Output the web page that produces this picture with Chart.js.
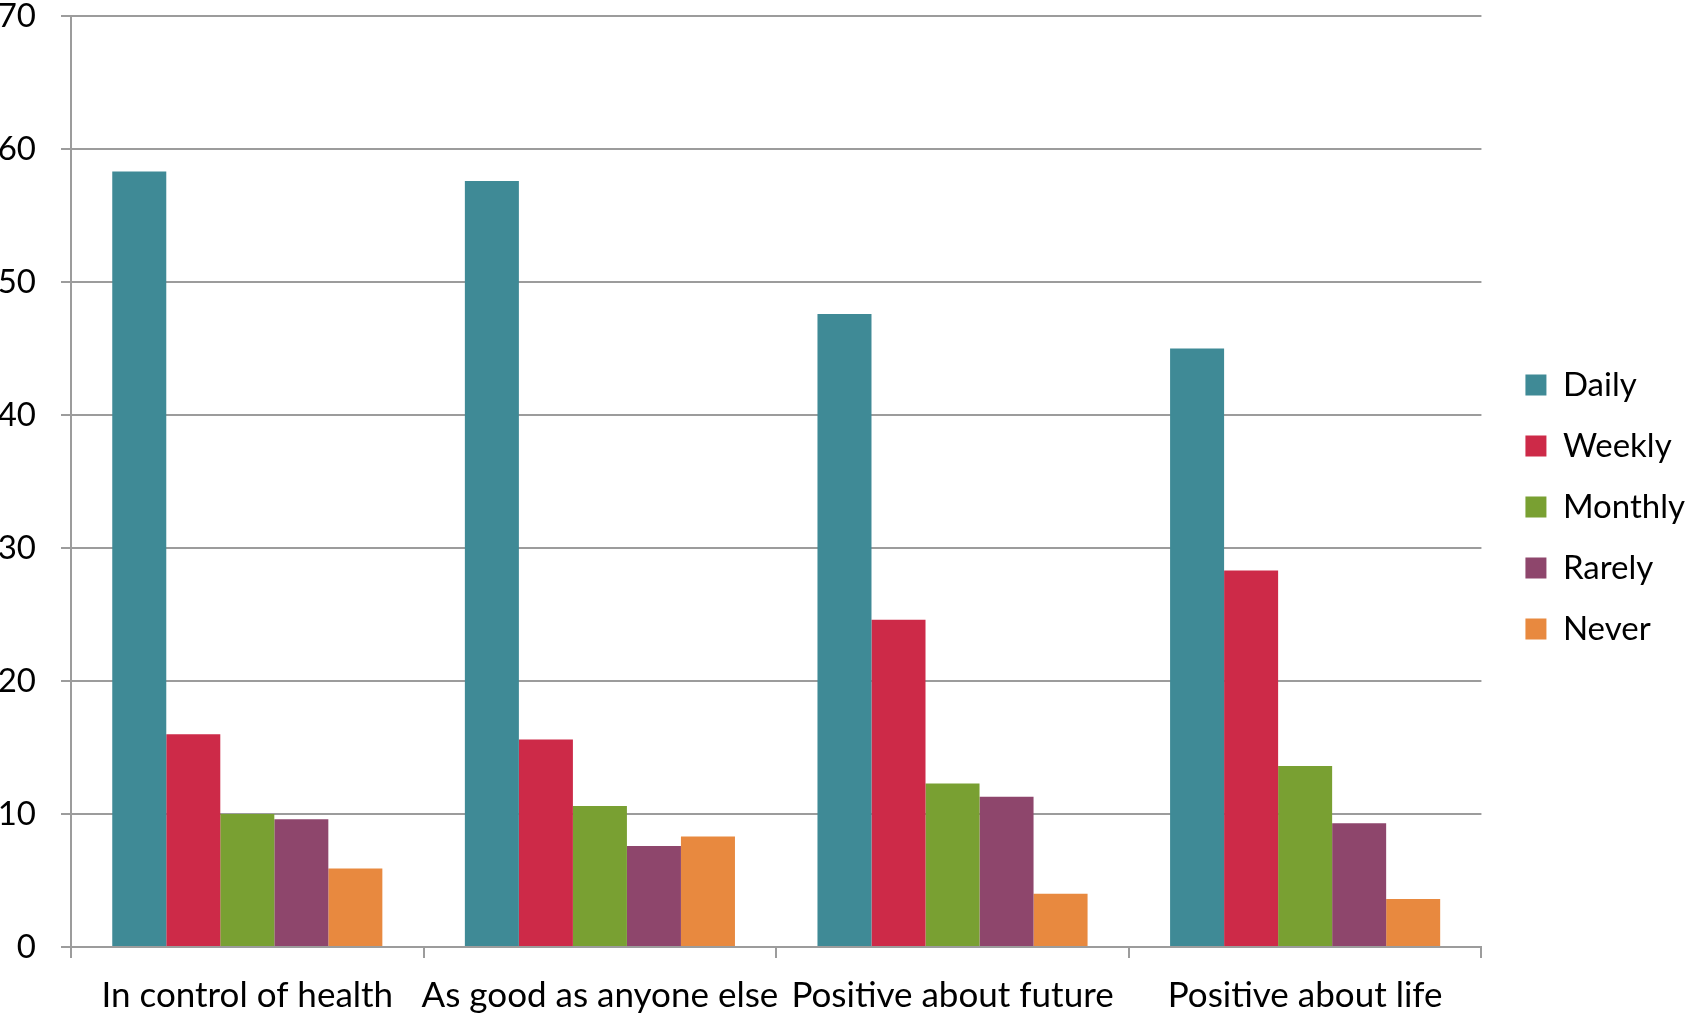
<!DOCTYPE html>
<html>
<head>
<meta charset="utf-8">
<script src="https://cdn.jsdelivr.net/npm/chart.js@4/dist/chart.umd.min.js"></script>
<style>
html,body{margin:0;padding:0;background:#fff;overflow:hidden;}
canvas{display:block;}
</style>
</head>
<body>
<canvas id="c" width="1687" height="1014"></canvas>
<script>
const categories = ["In control of health", "As good as anyone else", "Positive about future", "Positive about life"];
const seriesNames = ["Daily", "Weekly", "Monthly", "Rarely", "Never"];
const daily   = [58.3, 57.6, 47.6, 45.0];
const weekly  = [16.0, 15.6, 24.6, 28.3];
const monthly = [10.0, 10.6, 12.3, 13.6];
const rarely  = [9.6, 7.6, 11.3, 9.3];
const never   = [5.9, 8.3, 4.0, 3.6];
const yTicks = [0, 10, 20, 30, 40, 50, 60, 70];

const colors = ["#3F8A96", "#CD2A48", "#79A032", "#8E466C", "#E8893F"];
const values = [daily, weekly, monthly, rarely, never];
const FONT = "Lato";
const GRID = "#9c9c9c";

const legendShift = {
  id: "legendShift",
  afterLayout(chart) {
    const dx = 16, dy = -8;
    chart.legend.left += dx;
    chart.legend.right += dx;
    chart.legend.top += dy;
    chart.legend.bottom += dy;
  }
};

new Chart(document.getElementById("c"), {
  type: "bar",
  data: {
    labels: categories,
    datasets: seriesNames.map((n, i) => ({
      label: n,
      data: values[i],
      backgroundColor: colors[i],
      borderWidth: 0,
      categoryPercentage: 0.766,
      barPercentage: 1.0
    }))
  },
  options: {
    responsive: false,
    animation: false,
    devicePixelRatio: 1,
    layout: { padding: { top: 16, right: 8, left: 0, bottom: 0 } },
    plugins: {
      tooltip: { enabled: false },
      legend: {
        position: "right",
        align: "center",
        labels: {
          font: { family: FONT, size: 33 },
          color: "#000",
          boxWidth: 21,
          boxHeight: 21,
          padding: 28
        }
      }
    },
    scales: {
      x: {
        grid: { display: true, drawOnChartArea: false, offset: true, tickLength: 11, color: GRID, lineWidth: 2 },
        border: { display: true, color: GRID, width: 2 },
        ticks: { font: { family: FONT, size: 35 }, color: "#000", padding: 17, maxRotation: 0, autoSkip: false },
        afterFit(s) { s.height = 67; s.paddingLeft = 0; s.paddingRight = 0; }
      },
      y: {
        min: 0,
        max: 70,
        afterBuildTicks(s) { s.ticks = yTicks.map(v => ({ value: v })); },
        grid: { color: GRID, lineWidth: 2, tickLength: 10 },
        border: { display: true, color: GRID, width: 2 },
        ticks: { font: { family: FONT, size: 33 }, color: "#000", padding: 25 },
        afterFit(s) { s.width = 71; s.paddingTop = 0; s.paddingBottom = 0; }
      }
    }
  },
  plugins: [legendShift]
});
</script>
</body>
</html>
